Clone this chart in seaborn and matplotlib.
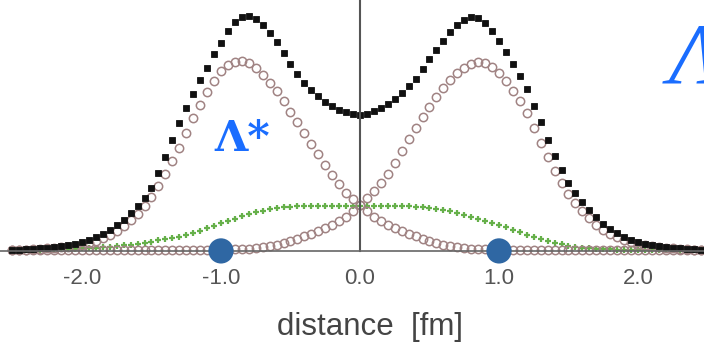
#!/usr/bin/env python3

import numpy as np
import pandas as pd
import matplotlib
matplotlib.use("Agg")
import matplotlib.pyplot as plt
import seaborn as sns

# sampling grid in fm (every 0.05 fm from -2.5 to 2.5)
distance = np.round(np.linspace(-2.5, 2.5, 101), 2)

# density values (arbitrary units)
total = [
    1, 1, 2, 2, 3, 3, 4, 5, 6, 7,
    9, 11, 14, 17, 21, 26, 31, 38, 45, 53,
    63, 78, 94, 111, 128, 143, 157, 171, 183, 197,
    208, 220, 229, 234, 235, 232, 226, 218, 209, 198,
    187, 177, 168, 161, 155, 149, 145, 141, 139, 137,
    136,
    137, 140, 143, 147, 152, 158, 165, 172, 182, 192,
    201, 210, 219, 226, 231, 234, 233, 228, 220, 210,
    199, 187, 175, 162, 145, 129, 111, 95, 81, 68,
    58, 49, 41, 34, 27, 22, 18, 14, 11, 9,
    7, 6, 5, 4, 3, 3, 2, 2, 1, 1,
]

left_part = [
    0.5, 1, 1, 1.5, 2, 2.5, 3, 3.5, 4, 5,
    6, 8, 10, 13, 16, 20, 25, 31, 37, 45,
    54, 65, 77, 90, 103, 118, 133, 146, 159, 170,
    180, 186, 189, 190, 188, 183, 176, 168, 160, 150,
    139, 129, 118, 107, 97, 86, 76, 67, 58, 52,
    46,
    40, 34, 30, 26, 23, 20, 17, 15, 12, 10,
    8, 6, 5, 4, 3, 2, 2, 1.5, 1, 1,
    1, 1, 1, 1, 1, 1, 1, 1, 1, 1,
    0.5, 0.5, 0.5, 0.5, 0.5, 0.5, 0.5, 0.5, 0.5, 0.5,
    0.5, 0.5, 0.5, 0.5, 0.5, 0.5, 0.5, 0.5, 0.5, 0.5,
]

right_part = [
    0.5, 0.5, 0.5, 0.5, 0.5, 0.5, 0.5, 0.5, 0.5, 0.5,
    0.5, 0.5, 0.5, 0.5, 0.5, 0.5, 0.5, 0.5, 0.5, 0.5,
    1, 1, 1, 1, 1, 1, 1, 1, 1, 1,
    1, 1, 1.5, 2, 2, 3, 4, 5, 6, 8,
    10, 12, 15, 17, 20, 23, 26, 30, 34, 40,
    46,
    53, 60, 68, 77, 88, 100, 112, 123, 134, 144,
    154, 163, 171, 178, 183, 187, 189, 188, 184, 178,
    170, 160, 150, 138, 123, 108, 94, 80, 68, 57,
    48, 40, 33, 26, 21, 17, 14, 11, 9, 7,
    6, 5, 4, 3, 2.5, 2, 1.5, 1, 1, 0.5,
]

middle_part = [
    0.5, 0.5, 1, 1, 1, 1.5, 1.5, 1.5, 2, 2,
    2.5, 3, 3, 3.5, 4, 5, 5.5, 6, 7, 8,
    9, 10.5, 12, 13, 14, 16, 18, 20, 23, 25,
    28, 30, 32, 35, 37, 39, 40, 42, 43, 43.5,
    44, 44.5, 45, 45, 45, 45, 45, 45, 45, 45,
    45,
    45, 45, 45, 45, 45, 45, 44.5, 44, 43.5, 43,
    42, 41, 39.5, 38, 36, 34, 32, 30, 28, 26,
    23.5, 21, 18.5, 16, 14, 12, 10, 8, 6.5, 5,
    4, 3, 2.5, 2, 1.5, 1.5, 1, 1, 1, 1,
    1, 0.5, 0.5, 0.5, 0.5, 0.5, 0.5, 0.5, 0.5, 0.5,
]

centres = [-1.0, 1.0]
centre_level = [0, 0]

xticks = [-2.0, -1.0, 0.0, 1.0, 2.0]
xtick_labels = ["-2.0", "-1.0", "0.0", "1.0", "2.0"]
yticks = [96, 191]


def main():
    sns.set_style("white")
    plt.rcParams["font.family"] = ["Liberation Sans", "DejaVu Sans"]

    df = pd.DataFrame({
        "distance": distance,
        "total": total,
        "left": left_part,
        "right": right_part,
        "middle": middle_part,
    })
    dots = pd.DataFrame({"distance": centres, "level": centre_level})

    fig = plt.figure(figsize=(7.04, 3.42), dpi=100)
    ax = fig.add_axes([0, 0.24, 1, 0.76])
    ax.patch.set_alpha(0)

    sns.lineplot(data=df, x="distance", y="middle", ax=ax, linestyle="",
                 marker="+", ms=5, mew=1.6, mec="#66b04a", color="#66b04a",
                 clip_on=False)
    sns.lineplot(data=df, x="distance", y="left", ax=ax, linestyle="",
                 marker="o", ms=6, mew=1.1, mec="#a08383", mfc="none",
                 color="#a08383", clip_on=False)
    sns.lineplot(data=df, x="distance", y="right", ax=ax, linestyle="",
                 marker="o", ms=6, mew=1.1, mec="#a08383", mfc="none",
                 color="#a08383", clip_on=False)
    sns.lineplot(data=df, x="distance", y="total", ax=ax, linestyle="",
                 marker="s", ms=4.2, mew=0.6, mec="#111111", color="#111111",
                 clip_on=False)
    sns.scatterplot(data=dots, x="distance", y="level", ax=ax, s=330,
                    color="#2f67a3", edgecolor="none", zorder=5, clip_on=False)

    ax.set_xlim(-360 / 139, 344 / 139)
    ax.set_ylim(-9, 251)

    for side in ["top", "right"]:
        ax.spines[side].set_visible(False)
    ax.spines["bottom"].set_position(("data", 0))
    ax.spines["left"].set_position(("data", 0))
    ax.spines["bottom"].set_color("#666666")
    ax.spines["left"].set_color("#555555")
    ax.spines["bottom"].set_linewidth(1.2)
    ax.spines["left"].set_linewidth(1.5)
    ax.spines["left"].set_bounds(0, 251)

    ax.set_xticks(xticks)
    ax.set_xticklabels(xtick_labels)
    ax.set_xticks(np.round(np.arange(-2.4, 2.41, 0.2), 1), minor=True)
    ax.tick_params(axis="x", which="major", direction="in", length=28,
                   width=1, color="#888888", labelsize=16, labelcolor="#555555",
                   pad=12)
    ax.tick_params(axis="x", which="minor", direction="in", length=5,
                   width=1, color="#777777")
    ax.set_yticks(yticks)
    ax.set_yticklabels([])
    ax.tick_params(axis="y", direction="in", length=7, width=1.2,
                   color="#555555")

    ax.set_xlabel("distance  [fm]", fontsize=22.5, color="#444444")
    ax.xaxis.set_label_coords(0.525, -0.2)
    ax.set_ylabel("")

    ax.text(-1.05, 100, "Λ*", fontsize=31, fontweight="bold", color="#1a6dff",
            family="DejaVu Serif", ha="left", va="baseline")
    ax.text(2.22, 168, "Λ", fontsize=62, style="italic", color="#1a6dff",
            family="Liberation Serif", ha="left", va="baseline",
            clip_on=False)

    fig.savefig("out.png", dpi=100)
    plt.close(fig)


if __name__ == "__main__":
    main()
